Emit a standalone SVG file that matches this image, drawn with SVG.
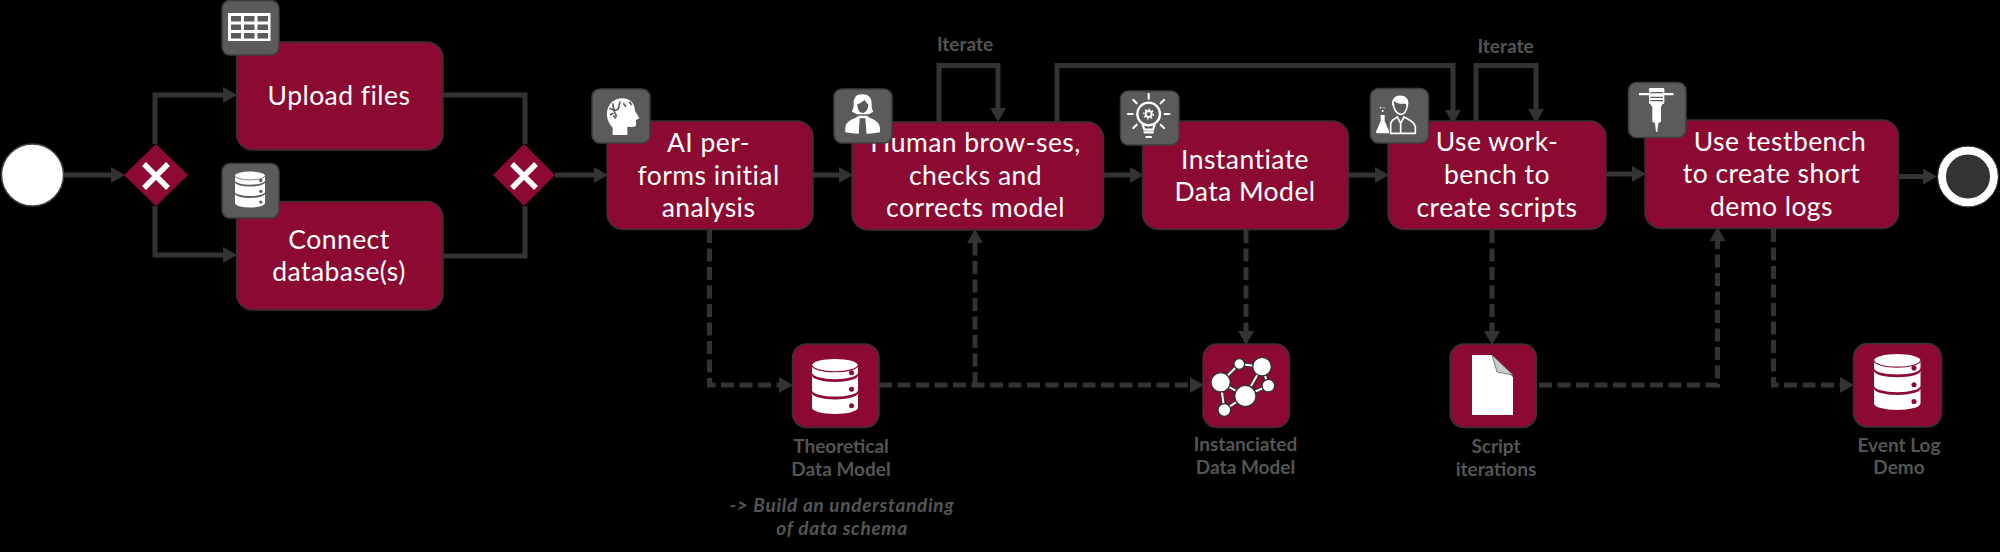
<svg xmlns="http://www.w3.org/2000/svg" width="2000" height="552" viewBox="0 0 2000 552">
<style>
.task{fill:#8c0a32;stroke:#333;stroke-width:1.5}
.gw{fill:#8c0a32}
.icon{fill:#5b5b5b;stroke:#3e3e3e;stroke-width:1.5}
.t{font-family:"Lato","Liberation Sans",sans-serif;font-size:26.5px;letter-spacing:.45px;fill:#fff;text-anchor:middle}
.l{font-family:"Lato","Liberation Sans",sans-serif;font-size:19px;font-weight:700;fill:#555;text-anchor:middle}
.it{font-style:italic;letter-spacing:.7px}
.c{fill:none;stroke:#333;stroke-width:5}
.d{stroke-dasharray:13 5.5}
.w{fill:#fff}
.wl{fill:none;stroke:#fff;stroke-width:6.5;stroke-linecap:round}
.x{fill:none;stroke:#fff;stroke-width:5.5}
.gl{fill:none;stroke:#333;stroke-width:11}
.gw2{fill:none;stroke:#fff;stroke-width:6}
.gn{fill:#fff;stroke:#333;stroke-width:4}
</style>
<defs>
<marker id="a" markerUnits="userSpaceOnUse" markerWidth="14" markerHeight="16" refX="0" refY="8" orient="auto" viewBox="0 0 14 16"><path d="M0 0L14 8L0 16Z" fill="#333"/></marker>
<symbol id="db" viewBox="0 0 100 120" overflow="visible">
<path class="w" d="M0 14A50 14 0 0 1 100 14V30A50 14 0 0 1 0 30Z"/>
<path fill="none" stroke="currentColor" stroke-width="2.5" d="M0 14A50 14 0 0 0 100 14"/>
<path class="w" d="M0 36A50 14 0 0 0 100 36V68A50 14 0 0 1 0 68Z"/>
<path class="w" d="M0 74A50 14 0 0 0 100 74V106A50 14 0 0 1 0 106Z"/>
<circle cx="86" cy="30" r="5.5" fill="currentColor"/><circle cx="86" cy="66" r="5.5" fill="currentColor"/><circle cx="86" cy="102" r="5.5" fill="currentColor"/>
</symbol>
</defs>
<rect width="2000" height="552" fill="#000"/>
<g id="connectors">
<path class="c" marker-end="url(#a)" d="M64 175H111"/>
<path class="c" marker-end="url(#a)" d="M155 144V95H223"/>
<path class="c" marker-end="url(#a)" d="M155 206V255H223"/>
<path class="c" d="M443 95H525V144"/>
<path class="c" d="M443 256H525V206"/>
<path class="c" marker-end="url(#a)" d="M555 175H594"/>
<path class="c" marker-end="url(#a)" d="M813 175H839"/>
<path class="c" marker-end="url(#a)" d="M1104 175H1130"/>
<path class="c" marker-end="url(#a)" d="M1349 175H1375"/>
<path class="c" marker-end="url(#a)" d="M1606 174H1632"/>
<path class="c" marker-end="url(#a)" d="M1899 176.500H1923"/>
<path class="c" marker-end="url(#a)" d="M939 122V65.500H998V108"/>
<path class="c" marker-end="url(#a)" d="M1057 122V65.500H1453V110"/>
<path class="c" marker-end="url(#a)" d="M1476 122V65.500H1536V109"/>
<path class="c d" marker-end="url(#a)" d="M709.500 230V385H779"/>
<path class="c d" marker-end="url(#a)" d="M879 385H1190"/>
<path class="c d" marker-end="url(#a)" d="M975 385V243"/>
<path class="c d" marker-end="url(#a)" d="M1246 230V331"/>
<path class="c d" marker-end="url(#a)" d="M1492 230V331"/>
<path class="c d" marker-end="url(#a)" d="M1539 385H1717.500V241"/>
<path class="c d" marker-end="url(#a)" d="M1773.500 229V385H1840"/>
</g>
<g id="start"><circle cx="32.500" cy="175" r="31" fill="#fff" stroke="#444" stroke-width="1.5"/></g>
<g id="gateway1"><path class="gw" d="M156 144L188 175L156 206L124 175Z"/><path class="x" d="M144 164L168 188M168 164L144 188"/></g>
<g id="gateway2"><path class="gw" d="M524 144L555 175L524 206L493 175Z"/><path class="x" d="M512 164L536 188M536 164L512 188"/></g>
<g id="upload"><rect class="task" x="236.500" y="42" width="206.500" height="108" rx="16"/><text class="t" x="339" y="105">Upload files</text>
<rect class="icon" x="222" y="0.500" width="57" height="54.500" rx="8"/>
<path class="w" d="M228 13H270.500V41H228Z"/><path fill="#5b5b5b" d="M231 16H241V21.500H231ZM244 16H254.500V21.500H244ZM257.500 16H268V21.500H257.500ZM231 24.500H241V30H231ZM244 24.500H254.500V30H244ZM257.500 24.500H268V30H257.500ZM231 33H241V38.500H231ZM244 33H254.500V38.500H244ZM257.500 33H268V38.500H257.500Z"/></g>
<g id="connect"><rect class="task" x="236.500" y="201.500" width="206.500" height="108.500" rx="16"/><text class="t" x="339" y="249">Connect</text><text class="t" x="339" y="281">database(s)</text>
<rect class="icon" x="222" y="163.500" width="57" height="54.500" rx="8"/>
<use href="#db" x="235" y="171" width="30" height="37" color="#5b5b5b"/></g>
<g id="ai"><rect class="task" x="607" y="121" width="206" height="108.500" rx="16"/><text class="t" x="708.500" y="152">AI per-</text><text class="t" x="708.500" y="184.500">forms initial</text><text class="t" x="708.500" y="216.500">analysis</text>
<rect class="icon" x="592" y="89" width="58" height="54" rx="8"/>
<g transform="translate(590 85) scale(.3333)"><path class="w" d="M68 150V128C55 115 48 95 52 75C58 50 80 38 100 40C125 42 135 60 135 78L148 100L138 105V120C138 126 130 127 112 125V150Z"/>
<path fill="none" stroke="#5b5b5b" stroke-width="5" d="M58 70L72 75L68 55M90 50L85 72L72 78L80 95M60 90L70 85M100 55L108 65M118 50L125 60M78 100L70 92"/></g></g>
<g id="human"><rect class="task" x="852" y="122" width="251.500" height="108" rx="16"/><text class="t" x="975.500" y="152">Human brow-ses,</text><text class="t" x="975.500" y="185">checks and</text><text class="t" x="975.500" y="217">corrects model</text>
<rect class="icon" x="834" y="89" width="58" height="54" rx="8"/>
<g transform="translate(832 85) scale(.3333)"><path class="w" d="M92 28C70 26 64 42 65 58C65 72 60 78 60 80L75 88H110L124 80C122 76 118 70 119 58C120 42 112 28 92 28Z"/>
<path fill="#5b5b5b" d="M76 58C84 56 92 50 97 45C102 52 106 56 109 58C109 75 100 84 92 84C84 84 76 75 76 58Z"/>
<path class="w" d="M40 142C38 120 42 108 72 98L80 92H105L113 98C140 108 146 120 144 142Q92 152 40 142Z"/>
<path fill="#5b5b5b" d="M83 100H100L104 150H80Z"/></g></g>
<g id="instantiate"><rect class="task" x="1142.500" y="121" width="206" height="108.500" rx="16"/><text class="t" x="1245" y="169">Instantiate</text><text class="t" x="1245" y="201">Data Model</text>
<rect class="icon" x="1120.500" y="91" width="58.500" height="54" rx="8"/>
<g transform="translate(1118 88) scale(.3333)"><circle cx="92" cy="78" r="34" fill="none" stroke="#fff" stroke-width="7"/>
<circle cx="92" cy="78" r="9" fill="none" stroke="#fff" stroke-width="6"/><circle cx="92" cy="78" r="14.500" fill="none" stroke="#fff" stroke-width="4" stroke-dasharray="5 6"/>
<path class="wl" d="M74 110L79 125H105L110 110M79 133H105M85 147H99M92 18V32M30 78H44M140 78H154M46 36L56 46M138 36L128 46M46 120L56 110M138 120L128 110"/></g></g>
<g id="workbench"><rect class="task" x="1388" y="121" width="218" height="108.500" rx="16"/><text class="t" x="1497" y="151">Use work-</text><text class="t" x="1497" y="184">bench to</text><text class="t" x="1497" y="216.500">create scripts</text>
<rect class="icon" x="1370.500" y="88.500" width="58" height="54.500" rx="8"/>
<g transform="translate(1368 85) scale(.3333)"><path class="w" d="M72 60C70 40 85 30 100 32C118 32 124 48 120 62L112 56C100 58 85 55 78 48L76 65Z"/>
<path fill="none" stroke="#fff" stroke-width="5" d="M76 55C76 75 88 88 98 88C110 88 118 75 118 55M68 145V118C68 106 80 102 88 96L98 115L108 96C118 102 138 108 142 125V145ZM98 115V145"/>
<path class="w" d="M38 90H50V108L64 140Q64 145 58 145H30Q24 145 24 140L38 108Z"/>
<circle class="w" cx="44" cy="78" r="3"/><circle class="w" cx="38" cy="68" r="2.500"/><circle class="w" cx="48" cy="68" r="2"/></g></g>
<g id="testbench"><rect class="task" x="1645" y="120" width="253.500" height="108.500" rx="16"/><text class="t" x="1780" y="150.500">Use testbench</text><text class="t" x="1771.500" y="183">to create short</text><text class="t" x="1771.500" y="215.500">demo logs</text>
<rect class="icon" x="1628.500" y="82.500" width="57.500" height="55" rx="8"/>
<g transform="translate(1625 80) scale(.3333)"><path class="w" d="M42 39H72V26Q72 24 76 24H114Q118 24 118 26V39H146V46H118V68Q118 72 112 72L108 82V125L100 130L97 155H93L90 130L82 125V82L76 72Q72 72 72 68V46H42Z"/>
<path fill="none" stroke="#5b5b5b" stroke-width="3.500" d="M76 38H114M76 52H114M76 62H114"/></g></g>
<g id="end"><circle cx="1968" cy="176.500" r="26" fill="#333" stroke="#fff" stroke-width="8"/><circle cx="1968" cy="176.500" r="30.500" fill="none" stroke="#444" stroke-width="1"/></g>
<g id="theoretical"><rect class="task" x="792.500" y="344" width="86.500" height="83.500" rx="14"/><use href="#db" x="812" y="357" width="46" height="59" color="#8c0a32"/>
<text class="l" x="841" y="453">Theoretical</text><text class="l" x="841" y="476">Data Model</text>
<text class="l it" x="842" y="512">-&gt; Build an understanding</text><text class="l it" x="842" y="535">of data schema</text></g>
<g id="instanciated"><rect class="task" x="1203" y="344" width="86.500" height="83.500" rx="14"/>
<g transform="translate(1200 340) scale(.3333)"><path class="gl" d="M62 127L118 72L186 80L136 168L205 137L186 80M62 127L136 168L73 210L62 127"/><path class="gw2" d="M62 127L118 72L186 80L136 168L205 137L186 80M62 127L136 168L73 210L62 127"/>
<circle class="gn" cx="118" cy="72" r="16"/><circle class="gn" cx="186" cy="80" r="28"/><circle class="gn" cx="205" cy="137" r="19"/><circle class="gn" cx="62" cy="127" r="29"/><circle class="gn" cx="136" cy="168" r="32"/><circle class="gn" cx="73" cy="210" r="19"/></g>
<text class="l" x="1245.500" y="451">Instanciated</text><text class="l" x="1245.500" y="474">Data Model</text></g>
<g id="script"><rect class="task" x="1450" y="344" width="86.500" height="83.500" rx="14"/>
<path class="w" d="M1472 355H1492L1513 377V415H1472Z"/><path fill="#ccc" stroke="#666" stroke-width="0.800" d="M1492 355L1513 375L1497 372Z"/>
<text class="l" x="1496" y="453">Script</text><text class="l" x="1496" y="476">iterations</text></g>
<g id="eventlog"><rect class="task" x="1853.500" y="343.500" width="88" height="83.500" rx="14"/><use href="#db" x="1874" y="353" width="46.500" height="58" color="#8c0a32"/>
<text class="l" x="1899" y="452">Event Log</text><text class="l" x="1899" y="474">Demo</text></g>
<text id="iterate1" class="l" x="965" y="50.500">Iterate</text>
<text id="iterate2" class="l" x="1505.500" y="52.500">Iterate</text>
</svg>
